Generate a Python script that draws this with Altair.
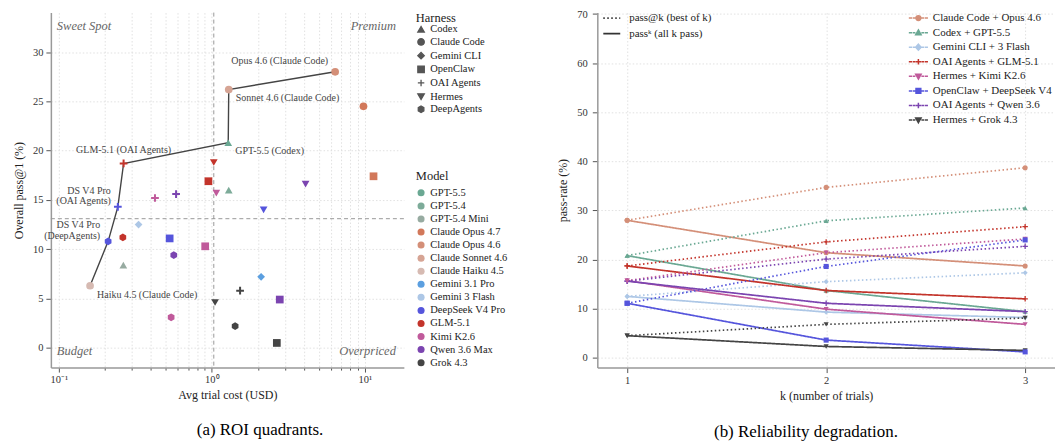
import altair as alt
import pandas as pd

SERIF = "Liberation Serif"

# ================= (a) ROI quadrants =================
harness_order = ["Codex", "Claude Code", "Gemini CLI", "OpenClaw", "OAI Agents", "Hermes", "DeepAgents"]
model_order = ["GPT-5.5", "GPT-5.4", "GPT-5.4 Mini", "Claude Opus 4.7", "Claude Opus 4.6",
               "Claude Sonnet 4.6", "Claude Haiku 4.5", "Gemini 3.1 Pro", "Gemini 3 Flash",
               "DeepSeek V4 Pro", "GLM-5.1", "Kimi K2.6", "Qwen 3.6 Max", "Grok 4.3"]
model_colors = ["#6aa893", "#7dab99", "#97aba1", "#d2785a", "#d48f78", "#d6a494", "#d6bab2",
                "#5b9fe0", "#adc7e6", "#5555dc", "#c3342b", "#c05a9b", "#7b44b0", "#444444"]

run_harness = ["Claude Code", "Claude Code", "Claude Code", "Codex", "OAI Agents", "Hermes",
               "OpenClaw", "Hermes", "Codex", "Hermes", "OpenClaw", "Hermes", "OAI Agents",
               "OAI Agents", "OAI Agents", "Gemini CLI", "DeepAgents", "DeepAgents", "Codex",
               "Claude Code", "OpenClaw", "DeepAgents", "OpenClaw", "Gemini CLI", "OAI Agents",
               "Hermes", "OpenClaw", "DeepAgents", "DeepAgents", "OpenClaw"]
run_model = ["Claude Opus 4.6", "Claude Sonnet 4.6", "Claude Opus 4.7", "GPT-5.5", "GLM-5.1",
             "GLM-5.1", "GLM-5.1", "Kimi K2.6", "GPT-5.4", "Qwen 3.6 Max", "Claude Opus 4.7",
             "DeepSeek V4 Pro", "Kimi K2.6", "Qwen 3.6 Max", "DeepSeek V4 Pro", "Gemini 3 Flash",
             "DeepSeek V4 Pro", "GLM-5.1", "GPT-5.4 Mini", "Claude Haiku 4.5", "DeepSeek V4 Pro",
             "Qwen 3.6 Max", "Kimi K2.6", "Gemini 3.1 Pro", "Grok 4.3", "Grok 4.3",
             "Qwen 3.6 Max", "Kimi K2.6", "Grok 4.3", "Grok 4.3"]
run_cost = [6.4, 1.29, 9.8, 1.28, 0.265, 1.03, 0.95, 1.07, 1.29, 4.1, 11.4, 2.18, 0.425, 0.584,
            0.243, 0.332, 0.21, 0.262, 0.264, 0.16, 0.53, 0.564, 0.905, 2.1, 1.53, 1.05, 2.78,
            0.542, 1.42, 2.66]
run_pass = [28.0, 26.2, 24.5, 20.8, 18.7, 18.8, 16.9, 15.7, 16.0, 16.6, 17.4, 14.0, 15.2, 15.6,
            14.3, 12.5, 10.8, 11.2, 8.4, 6.3, 11.1, 9.4, 10.3, 7.2, 5.8, 4.6, 4.9, 3.1, 2.2, 0.5]

frontier_runs = [19, 16, 14, 4, 3, 1, 0]
frontier_labels = ["Haiku 4.5 (Claude Code)", "DS V4 Pro\n(DeepAgents)", "DS V4 Pro\n(OAI Agents)",
                   "GLM-5.1 (OAI Agents)", "GPT-5.5 (Codex)", "Sonnet 4.6 (Claude Code)",
                   "Opus 4.6 (Claude Code)"]
median_cost = 1.03
median_pass = 13.1
quadrant_names = ["Sweet Spot", "Premium", "Budget", "Overpriced"]
x_tick_values = [0.1, 0.2, 0.3, 0.4, 0.5, 0.6, 0.7, 0.8, 0.9, 1, 2, 3, 4, 5, 6, 7, 8, 9, 10]
y_tick_values = [0, 5, 10, 15, 20, 25, 30]

# styles (not data)
HEX = "M0,-1L0.866,-0.5L0.866,0.5L0,1L-0.866,0.5L-0.866,-0.5Z"
PLUS = "M-1,0H1M0,-1V1"
harness_shapes = ["triangle-up", "circle", "diamond", "square", PLUS, "triangle-down", HEX]
label_style = [("left", 7, 9), ("right", -8, -16), ("right", -7, -16), ("center", 0, -14),
               ("left", 7, 8), ("left", 7, 9), ("right", -7, -11)]

runs = pd.DataFrame({"harness": run_harness, "model": run_model, "cost": run_cost, "pass": run_pass})
front = pd.DataFrame({
    "order": list(range(len(frontier_runs))),
    "cost": [run_cost[i] for i in frontier_runs],
    "pass": [run_pass[i] for i in frontier_runs],
    "label": frontier_labels,
})

W1, H = 354, 356
xs = alt.Scale(type="log", domain=[0.0887, 18], nice=False)
ys = alt.Scale(domain=[-2, 34], nice=False)
color_scale = alt.Scale(domain=model_order, range=model_colors)

x_axis = alt.Axis(
    title="Avg trial cost (USD)", values=x_tick_values, labelOverlap=False, labelFlush=False,
    labelExpr="datum.value == 0.1 ? '10⁻¹' : (datum.value == 1 ? '10⁰' : (datum.value == 10 ? '10¹' : ''))",
    tickSize={"condition": {"test": "datum.value == 0.1 || datum.value == 1 || datum.value == 10", "value": 4.5}, "value": 2.5},
    labelPadding=2, titlePadding=5,
)
y_axis = alt.Axis(title="Overall pass@1 (%)", values=y_tick_values, titlePadding=7, labelPadding=3)

X = alt.X("cost:Q", scale=xs, axis=x_axis)
Y = alt.Y("pass:Q", scale=ys, axis=y_axis)

vrule = alt.Chart(pd.DataFrame({"cost": [median_cost]})).mark_rule(
    color="#999", strokeDash=[4, 3], strokeWidth=1).encode(x=alt.X("cost:Q", scale=xs))
hrule = alt.Chart(pd.DataFrame({"pass": [median_pass]})).mark_rule(
    color="#999", strokeDash=[4, 3], strokeWidth=1).encode(y=alt.Y("pass:Q", scale=ys))

fline = alt.Chart(front).mark_line(color="#444", strokeWidth=1.4).encode(
    x=alt.X("cost:Q", scale=xs), y=alt.Y("pass:Q", scale=ys), order="order:Q")

pts = alt.Chart(runs).mark_point(filled=True, opacity=1, size=60).encode(
    x=X, y=Y,
    color=alt.Color("model:N", scale=color_scale, legend=alt.Legend(
        title="Model", orient="none", legendX=366, legendY=158, symbolType="circle",
        symbolSize=50, symbolStrokeWidth=0, rowPadding=2.1, labelFontSize=10.5, titleFontSize=12.5)),
    shape=alt.Shape("harness:N", scale=alt.Scale(domain=harness_order, range=harness_shapes),
                    legend=alt.Legend(title="Harness", orient="none", legendX=366, legendY=-1,
                                      symbolFillColor="#555", symbolStrokeColor="#555",
                                      symbolStrokeWidth=1.3, symbolSize=42, rowPadding=0.7,
                                      titlePadding=0, labelFontSize=10.5, titleFontSize=12.5)),
    stroke=alt.Stroke("model:N", scale=color_scale, legend=None),
    strokeWidth=alt.condition(alt.datum.harness == "OAI Agents", alt.value(2), alt.value(0)),
)

labels = []
for lab, (al, dx, dy) in zip(frontier_labels, label_style):
    labels.append(alt.Chart(front).transform_filter(alt.datum.label == lab).mark_text(
        align=al, baseline="middle", dx=dx, dy=dy, font=SERIF, fontSize=10, color="#444",
        lineBreak="\n", lineHeight=10.5).encode(
        x=alt.X("cost:Q", scale=xs), y=alt.Y("pass:Q", scale=ys), text="label:N"))

qpos = [(6, 13, "left"), (W1 - 8, 13, "right"), (6, H - 17, "left"), (W1 - 8, H - 17, "right")]
quads = []
for name, (qx, qy, al) in zip(quadrant_names, qpos):
    quads.append(alt.Chart(pd.DataFrame({"q": [name]})).mark_text(
        align=al, baseline="middle", font=SERIF, fontStyle="italic", fontSize=12.5, color="#666").encode(
        x=alt.value(qx), y=alt.value(qy), text="q:N"))

left = alt.layer(hrule, vrule, fline, pts, *labels, *quads).properties(
    width=W1, height=H,
    title=alt.TitleParams("(a) ROI quadrants.", orient="bottom", anchor="middle", frame="bounds",
                          font=SERIF, fontSize=17, fontWeight="normal", color="#000", offset=22))

# ================= (b) Reliability degradation =================
series_names = ["Claude Code + Opus 4.6", "Codex + GPT-5.5", "Gemini CLI + 3 Flash",
                "OAI Agents + GLM-5.1", "Hermes + Kimi K2.6", "OpenClaw + DeepSeek V4",
                "OAI Agents + Qwen 3.6", "Hermes + Grok 4.3"]
series_colors = ["#d48f78", "#6aa893", "#adc7e6", "#c3342b", "#c05a9b", "#5555dc", "#7b44b0", "#444444"]
series_markers = ["circle", "triangle-up", "diamond", "plus", "triangle-down", "square", "plus", "triangle-down"]
k_values = [1, 2, 3]
pass_at_k = [[28.0, 34.7, 38.7], [20.8, 27.9, 30.5], [12.5, 15.5, 17.3], [18.7, 23.6, 26.7],
             [15.7, 21.4, 24.2], [11.1, 18.6, 24.0], [15.6, 20.1, 22.7], [4.5, 6.8, 8.1]]
pass_all_k = [[28.0, 21.4, 18.7], [20.8, 13.7, 9.4], [12.5, 9.3, 8.2], [18.7, 13.7, 12.0],
              [15.7, 9.9, 6.8], [11.1, 3.6, 1.2], [15.6, 11.1, 9.4], [4.5, 2.3, 1.5]]
metric_names = ["pass@k (best of k)", "passᵏ (all k pass)"]

rows = []
for s, mk, a, b in zip(series_names, series_markers, pass_at_k, pass_all_k):
    for k, va, vb in zip(k_values, a, b):
        rows.append({"series": s, "marker": mk, "metric": metric_names[0], "k": k, "rate": va})
        rows.append({"series": s, "marker": mk, "metric": metric_names[1], "k": k, "rate": vb})
rel = pd.DataFrame(rows)

marker_paths = {
    "circle": "circle", "triangle-up": "triangle-up", "diamond": "diamond",
    "plus": PLUS, "triangle-down": "triangle-down", "square": "square",
}
LINE = "M-1.6,0H-1.05M-0.95,0H-0.5M0.5,0H0.95M1.05,0H1.6"
legend_marker = {
    "circle": LINE + "M0.4,0A0.4,0.4 0 1,1 -0.4,0A0.4,0.4 0 1,1 0.4,0Z",
    "triangle-up": LINE + "M0,-0.45L0.45,0.35L-0.45,0.35Z",
    "diamond": LINE + "M0,-0.5L0.45,0L0,0.5L-0.45,0Z",
    "plus": LINE + "M-0.45,0H0.45M0,-0.45V0.45",
    "triangle-down": LINE + "M0,0.45L0.45,-0.35L-0.45,-0.35Z",
    "square": LINE + "M-0.4,-0.4H0.4V0.4H-0.4Z",
}

W2 = 459
xs2 = alt.Scale(domain=[0.85, 3.15], nice=False)
ys2 = alt.Scale(domain=[-2, 70.3], nice=False)
cs2 = alt.Scale(domain=series_names, range=series_colors)
X2 = alt.X("k:Q", scale=xs2, axis=alt.Axis(title="k (number of trials)", values=k_values, format="d",
                                             labelPadding=3, titlePadding=5))
Y2 = alt.Y("rate:Q", scale=ys2, axis=alt.Axis(title="pass-rate (%)", values=[0, 10, 20, 30, 40, 50, 60, 70],
                                                labelPadding=5, titlePadding=7))

series_legend = alt.Legend(title=None, orient="none", legendX=315, legendY=-1.5, symbolSize=144,
                           symbolStrokeWidth=1.5, symbolOpacity=1, labelOffset=7.5, rowPadding=1.6,
                           labelFontSize=11)
legend_layer = alt.Chart(rel).transform_filter(alt.datum.metric == metric_names[0]).mark_point(
    filled=True, opacity=0, size=1).encode(
    x=X2, y=Y2,
    color=alt.Color("series:N", scale=cs2, legend=series_legend),
    stroke=alt.Stroke("series:N", scale=cs2, legend=series_legend),
    shape=alt.Shape("series:N", scale=alt.Scale(domain=series_names,
                                                range=[legend_marker[m] for m in series_markers]),
                    legend=series_legend),
)

lines = alt.Chart(rel).mark_line(strokeWidth=1.7).encode(
    x=X2, y=Y2,
    color=alt.Color("series:N", scale=cs2),
    strokeDash=alt.StrokeDash("metric:N", scale=alt.Scale(domain=metric_names, range=[[1.5, 2.5], [1, 0]]),
                              legend=alt.Legend(title=None, orient="none", legendX=5, legendY=-4,
                                                symbolType="stroke", symbolSize=289, symbolStrokeColor="#333",
                                                symbolStrokeWidth=1.8, rowPadding=0.6, labelOffset=8,
                                                labelFontSize=11)),
    order="k:Q",
)

point_layers = []
for mk in ["circle", "triangle-up", "diamond", "plus", "triangle-down", "square"]:
    is_plus = mk == "plus"
    point_layers.append(alt.Chart(rel).transform_filter(alt.datum.marker == mk).mark_point(
        shape=marker_paths[mk], filled=not is_plus, size=26 if not is_plus else 30, opacity=1,
        strokeWidth=1.3 if is_plus else 0).encode(
        x=X2, y=Y2, color=alt.Color("series:N", scale=cs2)))

right = alt.layer(legend_layer, lines, *point_layers).properties(
    width=W2, height=H,
    title=alt.TitleParams("(b) Reliability degradation.", orient="bottom", anchor="middle", frame="bounds",
                          font=SERIF, fontSize=17, fontWeight="normal", color="#000", offset=22))

indep = dict(color="independent", shape="independent", stroke="independent",
             strokeDash="independent", strokeWidth="independent")
chart = alt.hconcat(left, right, spacing=49).resolve_scale(**indep).resolve_legend(
    color="independent", shape="independent", stroke="independent", strokeDash="independent"
).properties(
    padding={"left": 4, "top": 0, "right": 0, "bottom": 0}, background="white"
).configure_axis(
    labelFont=SERIF, titleFont=SERIF, labelColor="#333", titleColor="#222", labelFontSize=10.5,
    titleFontSize=12, titleFontWeight="normal", domainColor="#999", domainWidth=1.5,
    tickColor="#555", tickWidth=1, gridColor="#d9d9d9", gridDash=[1.5, 2], gridWidth=0.8,
).configure_legend(
    labelFont=SERIF, titleFont=SERIF, titleFontWeight="normal", labelColor="#222", titleColor="#222",
).configure_view(stroke=None)

chart.save("out.html", embed_options={"renderer": "svg", "actions": False})
